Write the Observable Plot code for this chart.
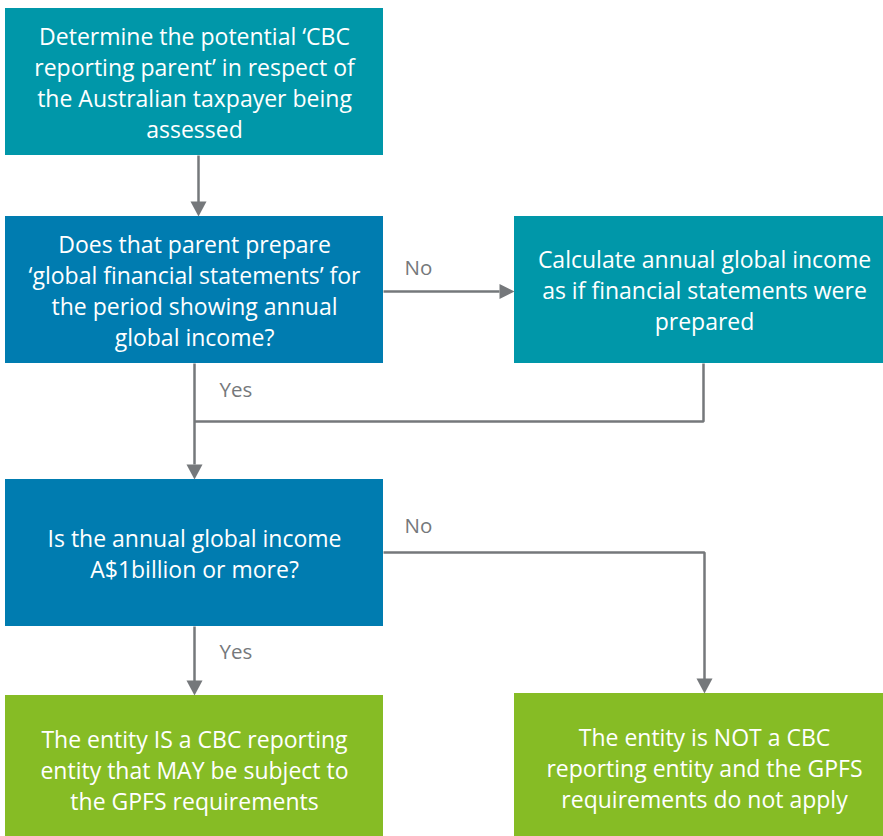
<!DOCTYPE html>
<html>
<head>
<meta charset="utf-8">
<script src="https://cdn.jsdelivr.net/npm/d3@7"></script>
<script src="https://cdn.jsdelivr.net/npm/@observablehq/plot@0.6"></script>
<style>
  html, body { margin: 0; padding: 0; background: #fff; }
  #chart svg { display: block; }
</style>
</head>
<body>
<div id="chart"></div>
<script>
// ---- Flowchart content ----
const nodeIds = ["determine", "prepare", "calculate", "threshold", "is", "isnot"];
const nodeTexts = [
  "Determine the potential ‘CBC\nreporting parent’ in respect of\nthe Australian taxpayer being\nassessed",
  "Does that parent prepare\n‘global financial statements’ for\nthe period showing annual\nglobal income?",
  "Calculate annual global income\nas if financial statements were\nprepared",
  "Is the annual global income\nA$1billion or more?",
  "The entity IS a CBC reporting\nentity that MAY be subject to\nthe GPFS requirements",
  "The entity is NOT a CBC\nreporting entity and the GPFS\nrequirements do not apply"
];
const nodeKinds = ["step", "decision", "step", "decision", "outcome", "outcome"];

// ---- Layout (pixel extents of each box; some run past the frame) ----
const boxX1 = [5, 5, 514, 5, 5, 514];
const boxX2 = [383, 383, 894, 383, 383, 894];
const boxY1 = [8, 216, 216, 479, 695, 693];
const boxY2 = [155, 363, 363, 626, 844, 842];

// ---- Connectors (polylines) ----
const connectorIds = ["c1", "c1", "c2", "c2", "c3", "c3", "c4", "c4", "c4", "c5", "c5", "c6", "c6", "c6"];
const connectorX   = [198, 198, 383, 499, 194, 194, 703, 703, 194, 194, 194, 383, 704, 704];
const connectorY   = [155, 202, 291, 291, 363, 464, 363, 421, 421, 626, 681, 552, 552, 679];

// ---- Arrowheads ----
const arrowX   = [198, 514, 194, 194, 704];
const arrowY   = [216, 291, 479, 695, 693];
const arrowDir = ["down", "right", "down", "down", "down"];

// ---- Edge labels ----
const edgeLabels = ["No", "Yes", "No", "Yes"];
const edgeLabelX = [404, 219, 404, 219];
const edgeLabelY = [268, 390, 526, 652];

const kindColors = { step: "#0097a9", decision: "#007cb0", outcome: "#86bc25" };
const lineColor = "#75787b";

const nodes = nodeIds.map((id, i) => ({
  id, text: nodeTexts[i], kind: nodeKinds[i],
  x1: boxX1[i], x2: boxX2[i], y1: boxY1[i], y2: boxY2[i],
  cx: (boxX1[i] + boxX2[i]) / 2, cy: (boxY1[i] + boxY2[i]) / 2 - 0.5
}));
const connectors = connectorIds.map((id, i) => ({ id, x: connectorX[i], y: connectorY[i] }));
const arrows = arrowX.map((x, i) => ({ x, y: arrowY[i], dir: arrowDir[i] }));
const labels = edgeLabels.map((t, i) => ({ t, x: edgeLabelX[i], y: edgeLabelY[i] }));

// custom arrowhead symbols: origin at the tip
const downHead = { draw(ctx) { ctx.moveTo(0, 0); ctx.lineTo(-8, -15); ctx.lineTo(8, -15); ctx.closePath(); } };
const rightHead = { draw(ctx) { ctx.moveTo(0, 0); ctx.lineTo(-15, -7.5); ctx.lineTo(-15, 7.5); ctx.closePath(); } };

const chart = Plot.plot({
  width: 883,
  height: 836,
  margin: 0,
  x: { domain: [0, 883], range: [0, 883], axis: null },
  y: { domain: [0, 836], range: [0, 836], axis: null },
  clip: true,
  style: { fontFamily: "'Open Sans', sans-serif", background: "#fff" },
  marks: [
    Plot.line(connectors, { x: "x", y: "y", z: "id", stroke: lineColor, strokeWidth: 2.5, strokeLinejoin: "miter", strokeLinecap: "butt" }),
    Plot.rect(nodes, { x1: "x1", x2: "x2", y1: "y1", y2: "y2", fill: d => kindColors[d.kind] }),
    Plot.dot(arrows.filter(d => d.dir === "down"), { x: "x", y: "y", symbol: downHead, fill: lineColor, stroke: "none", r: 8 }),
    Plot.dot(arrows.filter(d => d.dir === "right"), { x: "x", y: "y", symbol: rightHead, fill: lineColor, stroke: "none", r: 8 }),
    Plot.text(nodes, { x: "cx", y: "cy", text: "text", fill: "white", fontSize: 23, lineHeight: 1.345, textAnchor: "middle", lineAnchor: "middle", clip: false }),
    Plot.text(labels, { x: "x", y: "y", text: "t", fill: lineColor, fontSize: 20.5, textAnchor: "start", lineAnchor: "middle" })
  ]
});
document.getElementById("chart").appendChild(chart);
</script>
</body>
</html>
